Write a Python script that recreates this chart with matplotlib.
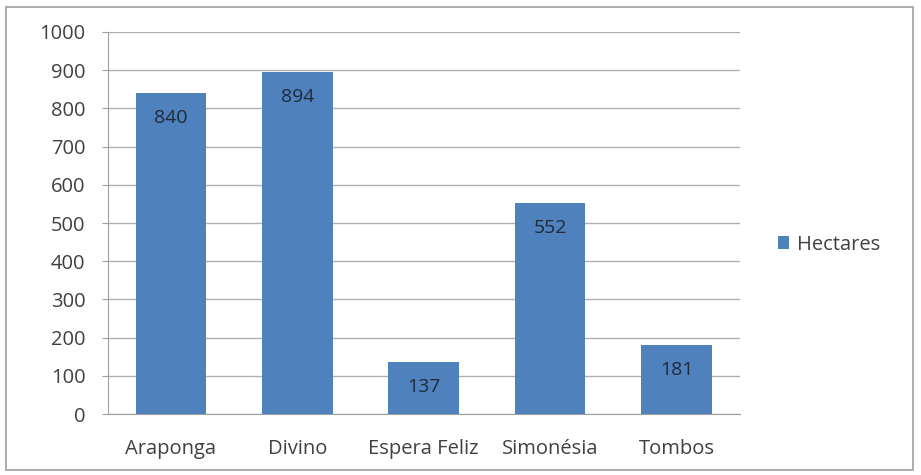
import matplotlib.pyplot as plt
from matplotlib.patches import Rectangle

# data
municipios = ['Araponga', 'Divino', 'Espera Feliz', 'Simonésia', 'Tombos']
hectares = [840, 894, 137, 552, 181]
yticks = list(range(0, 1001, 100))

BLUE = '#4F81BD'
plt.rcParams['font.family'] = ['Open Sans', 'DejaVu Sans']

fig = plt.figure(figsize=(9.21, 4.75), dpi=100)
# outer chart border
fig.patches.append(Rectangle((0.006, 0.01), 0.985, 0.975, transform=fig.transFigure,
                             fill=False, edgecolor='#A0A0A0', linewidth=1.2))

ax = fig.add_axes([0.117, 0.128, 0.686, 0.805])
x = range(len(municipios))
bars = ax.bar(x, hectares, width=0.56, color=BLUE, label='Hectares', zorder=3)

# value labels inside, near the top of each bar
for b, v in zip(bars, hectares):
    ax.annotate(str(v), (b.get_x() + b.get_width() / 2, v), xytext=(0, -18),
                textcoords='offset points', ha='center', va='center',
                fontsize=14, color='#1F2A3A', zorder=4)

ax.set_xlim(-0.5, len(municipios) - 0.5)
ax.set_ylim(0, 1000)
ax.set_yticks(yticks)
ax.set_xticks(list(x))
ax.set_xticklabels(municipios)
ax.tick_params(axis='x', length=0, pad=18, labelsize=14.5, colors='#404040')
ax.tick_params(axis='y', length=4, color='#A0A0A0', pad=12, labelsize=14.5, colors='#404040')
ax.yaxis.grid(True, color='#B0B0B0', linewidth=1, zorder=0)
for s in ['top', 'right']:
    ax.spines[s].set_visible(False)
ax.spines['left'].set_color('#A0A0A0')
ax.spines['bottom'].set_color('#A0A0A0')

fig.legend(handles=[bars], labels=['Hectares'], loc='center left',
           bbox_to_anchor=(0.825, 0.485), frameon=False, fontsize=14.5,
           handlelength=0.55, handleheight=0.55, handletextpad=0.4,
           labelcolor='#404040')

fig.savefig('out.png', dpi=100)
